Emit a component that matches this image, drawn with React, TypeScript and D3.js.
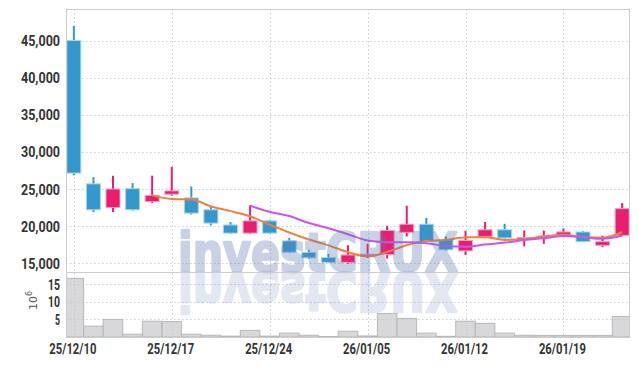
import React from "react";
import * as d3 from "d3";

const dates = [
  "25/12/10", "25/12/11", "25/12/12", "25/12/15", "25/12/16",
  "25/12/17", "25/12/18", "25/12/19", "25/12/22", "25/12/23",
  "25/12/24", "25/12/26", "25/12/29", "25/12/30", "26/01/02",
  "26/01/05", "26/01/06", "26/01/07", "26/01/08", "26/01/09",
  "26/01/12", "26/01/13", "26/01/14", "26/01/15", "26/01/16",
  "26/01/19", "26/01/20", "26/01/21", "26/01/22",
];
const opens = [45050, 25700, 22500, 25050, 23300, 24300, 23800, 22200, 20150, 19050, 20700, 18000, 16450, 15750, 15100, 16050, 16150, 19150, 20250, 18150, 16650, 18600, 19500, 18350, 18400, 18700, 19200, 17400, 18750];
const closes = [27150, 22200, 25000, 22200, 24150, 24750, 21750, 20400, 19050, 20700, 19050, 16450, 15700, 15100, 16100, 16200, 19400, 20250, 17900, 16800, 18050, 19500, 18400, 18450, 18650, 19200, 17900, 17900, 22350];
const highs = [47000, 26600, 26800, 25800, 26800, 28000, 25350, 22750, 20550, 22800, 20850, 18400, 16800, 16250, 17400, 17600, 20050, 22750, 21100, 18600, 19350, 20550, 20300, 19400, 19400, 19700, 19300, 18700, 23100];
const lows = [26850, 21900, 21900, 22100, 23100, 24100, 21550, 20100, 18950, 18950, 18950, 16350, 15550, 15000, 14900, 15700, 15600, 18600, 17800, 16700, 16100, 18500, 18300, 17250, 17600, 18650, 17850, 17150, 18600];
const volumes = [16.7, 3.1, 5.0, 0.8, 4.5, 4.4, 0.8, 0.5, 0.25, 1.9, 0.25, 1.1, 0.5, 0.15, 1.65, 0.3, 6.7, 5.3, 1.1, 0.2, 4.5, 3.9, 1.1, 0.5, 0.45, 0.45, 0.45, 0.45, 5.85];
const priceTicks = [15000, 20000, 25000, 30000, 35000, 40000, 45000];
const volumeTicks = [5, 10, 15];
const xTickIndices = [0, 5, 10, 15, 20, 25];
const maPeriods = [5, 10];
const watermark = "investCRUX";

const W = 639, H = 366;
const L = 66, R = 630, T = 9, SEP = 272, B = 337;
const UP = "#e91e6e", DOWN = "#3399cc";
const UP_EDGE = "#f5a3c3", DOWN_EDGE = "#a9d5ec";
const MA_COLORS = ["#f0803c", "#cc55ee"];
const FONT = "Roboto, 'Liberation Sans', sans-serif";

function movingAverage(period: number) {
  return closes.map((_, i) =>
    i < period - 1 ? null : (d3.mean(closes.slice(i - period + 1, i + 1)) as number)
  );
}

function labelWidth(s: string) {
  let w = 0;
  for (const ch of s) {
    if (ch === ",") w += 4;
    else if (ch === "/") w += 2.5;
    else w += 7;
  }
  return w;
}

export default function App() {
  const x = d3.scaleLinear().domain([-0.4, dates.length - 0.6]).range([L, R]);
  const y = d3.scaleLinear().domain([13800, 49300]).range([SEP, T]);
  const yv = d3.scaleLinear().domain([0, 18.5]).range([B, SEP]);
  const step = x(1) - x(0);
  const bodyW = 14;
  const fmt = d3.format(",");

  const line = d3
    .line<[number, number | null]>()
    .defined((d) => d[1] != null)
    .x((d) => x(d[0]))
    .y((d) => y(d[1] as number))
    .curve(d3.curveMonotoneX);

  const mas = maPeriods.map((p) => movingAverage(p));

  const wmX = 178, wmBase = 271;

  return (
    <svg
      width={W}
      height={H}
      style={{ position: "absolute", left: 0, top: 0, background: "#fff" }}
    >
      <defs>
        <clipPath id="plot">
          <rect x={L} y={T} width={R - L} height={B - T} />
        </clipPath>
      </defs>
      <rect x={0} y={0} width={W} height={H} fill="#fff" />

      {/* grid */}
      <g stroke="#c3cbdd" strokeWidth={1} strokeDasharray="1.5,2.5">
        {priceTicks.map((t) => (
          <line key={"p" + t} x1={L} x2={R} y1={Math.round(y(t)) + 0.5} y2={Math.round(y(t)) + 0.5} />
        ))}
        {volumeTicks.map((t) => (
          <line key={"v" + t} x1={L} x2={R} y1={Math.round(yv(t)) + 0.5} y2={Math.round(yv(t)) + 0.5} />
        ))}
        {xTickIndices.map((i) => (
          <line key={"x" + i} x1={Math.round(x(i)) + 0.5} x2={Math.round(x(i)) + 0.5} y1={T} y2={B} />
        ))}
      </g>

      {/* volume bars */}
      <g clipPath="url(#plot)">
        {volumes.map((v, i) => (
          <rect
            key={"vb" + i}
            x={x(i) - step / 2}
            y={yv(v)}
            width={step}
            height={yv(0) - yv(v)}
            fill="rgba(200,200,202,0.7)"
            stroke="#b9b9bb"
            strokeWidth={1}
          />
        ))}
      </g>

      {/* candles */}
      <g>
        {dates.map((_, i) => {
          const up = closes[i] >= opens[i];
          const c = up ? UP : DOWN;
          const top = y(Math.max(opens[i], closes[i]));
          const bot = y(Math.min(opens[i], closes[i]));
          const h = Math.max(bot - top, 2);
          return (
            <g key={"c" + i}>
              <line x1={x(i)} x2={x(i)} y1={y(highs[i])} y2={y(lows[i])} stroke={c} strokeWidth={2} />
              <rect
                x={x(i) - bodyW / 2}
                y={top}
                width={bodyW}
                height={h}
                fill={c}
                stroke={up ? UP_EDGE : DOWN_EDGE}
                strokeWidth={1}
              />
            </g>
          );
        })}
      </g>

      {/* moving averages */}
      {mas.map((m, k) => (
        <path
          key={"ma" + k}
          d={line(m.map((v, i) => [i, v] as [number, number | null])) || ""}
          fill="none"
          stroke={MA_COLORS[k]}
          strokeWidth={2}
        />
      ))}

      {/* watermark with reflection */}
      <g clipPath="url(#plot)">
        <g opacity={0.33}>
          <text
            id="wm"
            x={wmX}
            y={wmBase}
            fontFamily="'DejaVu Sans', sans-serif"
            fontWeight={700}
            fontSize={54}
            textLength={280}
            lengthAdjust="spacingAndGlyphs"
            fill="rgb(95,120,178)"
            stroke="rgb(95,120,178)"
            strokeWidth={2.5}
            strokeLinejoin="round"
          >
            {watermark}
          </text>
        </g>
        <g opacity={0.17} transform={`translate(0,${2 * wmBase + 2}) scale(1,-1)`}>
          <use href="#wm" />
        </g>
      </g>

      {/* frame */}
      <g fill="none" stroke="#cccccc" strokeWidth={1}>
        <rect x={L + 0.5} y={T + 0.5} width={R - L - 1} height={B - T} />
        <line x1={L} x2={R} y1={SEP + 0.5} y2={SEP + 0.5} />
      </g>

      {/* axis labels */}
      <g fontFamily={FONT} fontWeight={700} fontSize={15} fill="#333" textAnchor="end">
        {priceTicks.map((t) => (
          <text
            key={"pl" + t}
            x={60}
            y={y(t) + 5.5}
            textLength={labelWidth(fmt(t))}
            lengthAdjust="spacingAndGlyphs"
          >
            {fmt(t)}
          </text>
        ))}
        {volumeTicks.map((t) => (
          <text
            key={"vl" + t}
            x={60}
            y={yv(t) + 5.5}
            textLength={labelWidth(String(t)) - 2}
            lengthAdjust="spacingAndGlyphs"
          >
            {t}
          </text>
        ))}
      </g>
      <g fontFamily={FONT} fontWeight={700} fontSize={14} fill="#333" textAnchor="middle">
        {xTickIndices.map((i) => (
          <text
            key={"xl" + i}
            x={x(i) - 1}
            y={354}
            textLength={labelWidth(dates[i])}
            lengthAdjust="spacingAndGlyphs"
          >
            {dates[i]}
          </text>
        ))}
      </g>
      <text
        transform="translate(37,310) rotate(-90)"
        fontFamily="'DejaVu Sans', sans-serif"
        fontSize={11}
        fill="#555"
      >
        10
        <tspan dy={-5} fontSize={8}>
          6
        </tspan>
      </text>
    </svg>
  );
}
